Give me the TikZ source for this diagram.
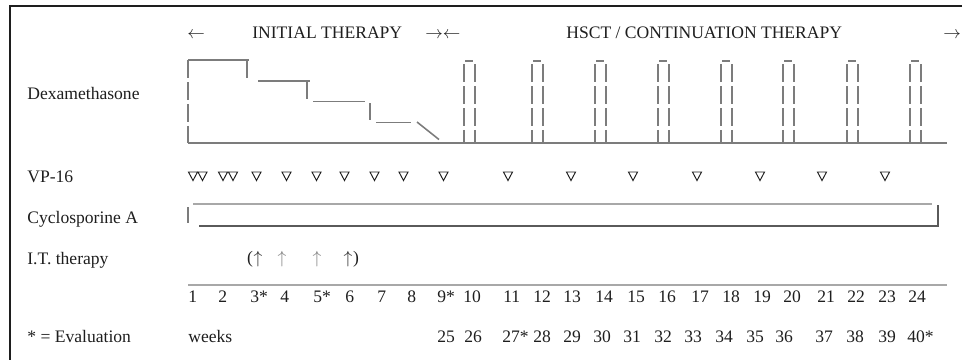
\documentclass[tikz,border=0pt]{standalone}
\usepackage{fontspec}
\setmainfont{Liberation Serif}
\usetikzlibrary{positioning}
\definecolor{ink}{HTML}{1E1E1E}
\definecolor{rulegray}{HTML}{7C7C7C}
\definecolor{palegray}{HTML}{A8A8A8}
\definecolor{midgray}{HTML}{7A7A7A}
\definecolor{darkrule}{HTML}{5A5A5A}

\begin{document}
\begin{tikzpicture}[x=0.02cm, y=-0.02cm]
  \tikzset{txt/.style={anchor=base west, inner sep=0pt, text=ink, font=\fontsize{10}{12}\selectfont},
           dex/.style={draw=rulegray, line width=0.9pt},
           dexdash/.style={dex, dash pattern=on 0.36cm off 0.08cm},
           tri/.style={draw=ink, line width=0.55pt, line join=miter}}
  \useasboundingbox (0,0) rectangle (966,360);
  \draw[ink, line width=1.1pt] (962,6) -- (10,6) -- (10,360);

  \node[txt] (la) at (187,38) {$\leftarrow$};
  \node[txt] (init) at (252,38) {INITIAL THERAPY};
  \node[txt] (mid) at (425,38) {$\rightarrow\leftarrow$};
  \node[txt] (hsct) at (566,38) {HSCT / CONTINUATION THERAPY};
  \node[txt] (ra) at (943,38) {$\rightarrow$};

  \node[txt] (dexl) at (27,99.5) {Dexamethasone};
  \node[txt] (vpl) at (27,182) {VP-16};
  \node[txt] (csal) at (27,223) {Cyclosporine A};
  \node[txt] (itl) at (27,264) {I.T.\ therapy};
  \node[txt] (evl) at (27,342) {* = Evaluation};
  \node[txt] (wkl) at (188,342) {weeks};

  \draw[dexdash] (188,60) -- (188,143);
  \draw[dex] (188,60) -- (249,60);
  \draw[dex] (247,60) -- (247,78);
  \draw[dex] (258,81) -- (310,81);
  \draw[dex] (307,81) -- (307,99);
  \draw[dex] (313,101.5) -- (365,101.5);
  \draw[dex] (370,103) -- (370,120);
  \draw[dex] (376,122.5) -- (411,122.5);
  \draw[dex] (417,122) -- (439,139.5);
  \draw[dex] (188,143) -- (947,143);
  \foreach \x in {464,532,595,658,721,783,847,910} {
    \draw[dex] ({\x+1},61) -- ({\x+9},61);
    \draw[dexdash] (\x,64) -- (\x,143);
    \draw[dexdash] ({\x+11},64) -- ({\x+11},143);
  }

  \foreach \x in {193,202.5,223,233,256.5,286.5,316.5,344.5,374.5,403.5,443.5,508,571,633,697,760,822,885}
    \draw[tri] ({\x-4.5},172) -- ({\x+4.5},172) -- (\x,180.5) -- cycle;

  \draw[dex] (188,207) -- (188,223);
  \draw[palegray, line width=0.8pt] (193,204) -- (932,204);
  \draw[darkrule, line width=1pt] (199,226) -- (938,226) -- (938,205);

  \foreach \x/\c [count=\i from 3] in {258/ink, 282/midgray, 317/midgray, 348/ink}
    \node[txt, anchor=base, text=\c] (it\i) at (\x,263) {$\uparrow$};
  \node[txt, base left=0pt of it3] (lpar) {(};
  \node[txt, base right=0pt of it6] (rpar) {)};

  \draw[palegray, line width=0.8pt] (188,285) -- (947,285);
  \foreach \x/\t [count=\i] in {188/1, 218/2, 250/3*, 280/4, 313/5*, 345/6, 377/7, 407/8, 437/9*, 463/10,
      503/11, 533/12, 563/13, 595/14, 627/15, 658/16, 691/17, 722/18, 753/19, 783/20, 817/21, 847/22, 878/23, 908/24}
    \node[txt] (w\i) at (\x,302) {\t};
  \foreach \x/\t [count=\i from 25] in {437/25, 464/26, 502/27*, 533/28, 563/29, 593/30, 623/31, 654/32,
      684/33, 715/34, 746/35, 775/36, 815/37, 846/38, 878/39, 907/40*}
    \node[txt] (v\i) at (\x,342) {\t};
\end{tikzpicture}
\end{document}
